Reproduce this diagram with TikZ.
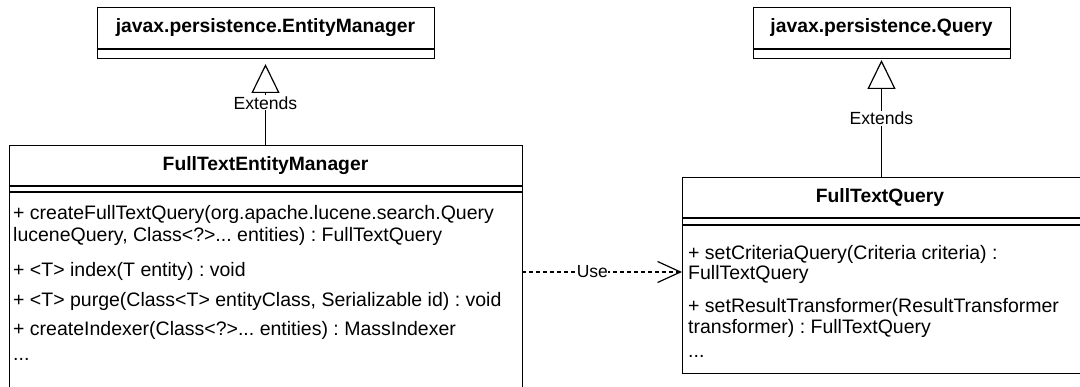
\documentclass[tikz,border=0pt]{standalone}
\usepackage{fontspec}
\setmainfont{Liberation Sans}
\usetikzlibrary{arrows.meta}
\frenchspacing
\begin{document}
\begin{tikzpicture}[x=1pt,y=-1pt,
  umlbox/.style={draw, line width=1.3pt, inner sep=0pt, anchor=north west},
  sepline/.style={line width=1.3pt},
  head/.style={font=\fontsize{19.3}{22}\selectfont\bfseries, inner sep=0pt},
  body/.style={font=\fontsize{19.5}{22}\selectfont, anchor=west, inner sep=0pt},
  lbl/.style={font=\fontsize{17.6}{20}\selectfont, fill=white, inner sep=1pt},
  ulbl/.style={font=\fontsize{17.5}{18}\selectfont, fill=white, inner sep=0.5pt},
  extends/.style={line width=1.2pt, -{Triangle[open, length=29pt, width=28pt, line width=1.2pt]}},
  uses/.style={line width=1.1pt, dash pattern=on 4pt off 3pt, -{Straight Barb[length=23pt, width=21pt, line width=1.2pt]}}
]
\useasboundingbox (0,0) rectangle (1080,387);
\clip (0,0) rectangle (1080,387);

% javax.persistence.EntityManager
\node[umlbox, minimum width=337pt, minimum height=51pt] (em) at (97,7) {};
\node[head] (emt) at (265.5,28) {javax.persistence.EntityManager};
\draw[sepline] (97,49) -- (434,49);

% javax.persistence.Query
\node[umlbox, minimum width=257pt, minimum height=51pt] (q) at (753,7) {};
\node[head] (qt) at (881.5,28) {javax.persistence.Query};
\draw[sepline] (753,49) -- (1010,49);

% FullTextEntityManager
\node[umlbox, minimum width=513pt, minimum height=250pt] (ftem) at (9,145) {};
\node[head] (ftemt) at (265.5,165.5) {FullTextEntityManager};
\draw[sepline] (9,186) -- (522,186);
\draw[sepline] (9,192) -- (522,192);
\node[body] (m1) at (13,214) {+ createFullTextQuery(org.apache.lucene.search.Query};
\node[body] (m1b) at (13,236) {luceneQuery, Class<?>... entities) : FullTextQuery};
\node[body] (m2) at (13,271) {+ <T> index(T entity) : void};
\node[body] (m3) at (13,301) {+ <T> purge(Class<T> entityClass, Serializable id) : void};
\node[body] (m4) at (13,330) {+ createIndexer(Class<?>... entities) : MassIndexer};
\node[body] (m5) at (13,359) {...};

% FullTextQuery
\node[umlbox, minimum width=398pt, minimum height=196pt] (ftq) at (682,177) {};
\node[head] (ftqt) at (880,197.5) {FullTextQuery};
\draw[sepline] (682,218) -- (1080,218);
\draw[sepline] (682,225) -- (1080,225);
\node[body] (n1) at (688,254) {+ setCriteriaQuery(Criteria criteria) :};
\node[body] (n1b) at (688,274) {FullTextQuery};
\node[body] (n2) at (688,307) {+ setResultTransformer(ResultTransformer};
\node[body] (n2b) at (688,328) {transformer) : FullTextQuery};
\node[body] (n3) at (688,356) {...};

% connectors
\coordinate (a1) at (265.5,145);
\coordinate (a2) at (265.5,64);
\draw[extends] (a1) -- node[lbl, pos=0.52] {Extends} (a2);

\coordinate (b1) at (881.5,177);
\coordinate (b2) at (881.5,60);
\draw[extends] (b1) -- node[lbl, pos=0.5] {Extends} (b2);

\coordinate (u1) at (522,272);
\coordinate (u2) at (682,272);
\draw[uses] (u1) -- node[ulbl, pos=0.44] {Use} (u2);
\end{tikzpicture}
\end{document}
